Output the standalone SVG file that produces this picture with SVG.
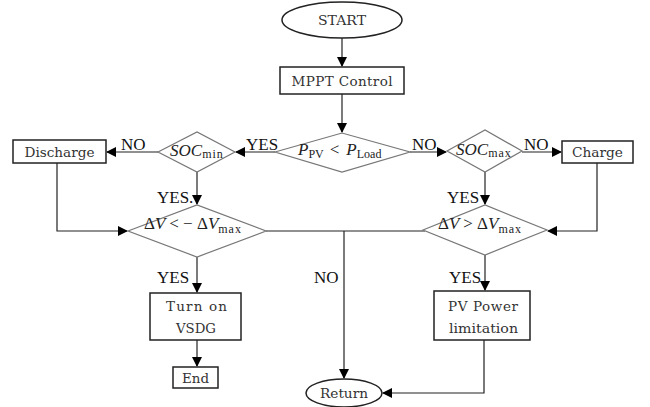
<svg xmlns="http://www.w3.org/2000/svg" width="650" height="407" viewBox="0 0 650 407">
<style>
.box{fill:#fff;stroke:#222;stroke-width:1.5}
.dia{fill:#fff;stroke:#777;stroke-width:1.2}
.t{font-family:"DejaVu Serif","Liberation Serif",serif;font-size:13.5px;fill:#333;text-anchor:middle}
.lbl{font-family:"Liberation Serif",serif;font-size:17px;fill:#111}
.m{font-family:"Liberation Serif",serif;font-size:17px;font-style:italic;fill:#222}
.sub{font-style:normal;font-size:12px}
.c{fill:none;stroke:#222;stroke-width:1.2}
</style>
<defs>
<marker id="ah" markerWidth="10" markerHeight="10" refX="9" refY="5" orient="auto" markerUnits="userSpaceOnUse">
<path d="M0,0 L10,5 L0,10 Z" fill="#000"/>
</marker>
</defs>
<g id="connectors">
<path class="c" d="M342,38 V66" marker-end="url(#ah)"/>
<path class="c" d="M342,94 V132" marker-end="url(#ah)"/>
<path class="c" d="M275,152 H236" marker-end="url(#ah)"/>
<path class="c" d="M158,152 H107" marker-end="url(#ah)"/>
<path class="c" d="M410,152 H446" marker-end="url(#ah)"/>
<path class="c" d="M522,152 H561" marker-end="url(#ah)"/>
<path class="c" d="M197,172 V204" marker-end="url(#ah)"/>
<path class="c" d="M485,172 V204" marker-end="url(#ah)"/>
<path class="c" d="M57,163 V231 H127" marker-end="url(#ah)"/>
<path class="c" d="M597,163 V231 H548" marker-end="url(#ah)"/>
<path class="c" d="M266,231 H425"/>
<path class="c" d="M344,231 V378" marker-end="url(#ah)"/>
<path class="c" d="M197,257 V292" marker-end="url(#ah)"/>
<path class="c" d="M485,255 V290" marker-end="url(#ah)"/>
<path class="c" d="M197,340 V366" marker-end="url(#ah)"/>
<path class="c" d="M484,340 V393 H383" marker-end="url(#ah)"/>
</g>
<g id="start"><ellipse class="box" cx="342" cy="20" rx="60" ry="18"/><text class="t" x="342" y="25" textLength="48" lengthAdjust="spacingAndGlyphs">START</text></g>
<g id="mppt"><rect class="box" x="280" y="67" width="124" height="27"/><text class="t" x="342" y="86" textLength="101" lengthAdjust="spacing">MPPT Control</text></g>
<g id="pcompare"><polygon class="dia" points="275,152 342,133 410,152 342,172"/><text class="m" x="298" y="155">P<tspan class="sub" dy="3" font-style="italic" font-size="11">PV</tspan><tspan dy="-3" font-style="normal" dx="6">&lt;</tspan><tspan dx="7">P</tspan><tspan class="sub" dy="3" font-style="italic" font-size="11">Load</tspan></text></g>
<g id="socmin"><polygon class="dia" points="158,152 197,132 235,152 197,172"/><text class="m" x="170" y="156">SOC<tspan class="sub" dy="2" letter-spacing="1">min</tspan></text></g>
<g id="discharge"><rect class="box" x="13" y="140" width="93" height="23"/><text class="t" x="59.5" y="157" textLength="70" lengthAdjust="spacingAndGlyphs">Discharge</text></g>
<g id="socmax"><polygon class="dia" points="447,151 485,130 522,151 485,172"/><text class="m" x="456" y="155">SOC<tspan class="sub" dy="2" letter-spacing="1">max</tspan></text></g>
<g id="charge"><rect class="box" x="562" y="141" width="71" height="22"/><text class="t" x="597.5" y="157" textLength="51" lengthAdjust="spacingAndGlyphs">Charge</text></g>
<g id="dvlow"><polygon class="dia" points="128,231 197,205 266,231 197,257"/><text class="m" x="144" y="229"><tspan font-style="normal">Δ</tspan>V <tspan font-style="normal">&lt; −</tspan> <tspan font-style="normal">Δ</tspan>V<tspan class="sub" dy="4" letter-spacing="1">max</tspan></text></g>
<g id="dvhigh"><polygon class="dia" points="423,230 485,205 547,230 485,255"/><text class="m" x="438" y="229"><tspan font-style="normal">Δ</tspan>V <tspan font-style="normal">&gt;</tspan> <tspan font-style="normal">Δ</tspan>V<tspan class="sub" dy="4" letter-spacing="1">max</tspan></text></g>
<g id="vsdg"><rect class="box" x="150" y="293" width="91" height="47"/><text class="t" x="196.5" y="311" textLength="61" lengthAdjust="spacing">Turn on</text><text class="t" x="196" y="333" textLength="40" lengthAdjust="spacingAndGlyphs">VSDG</text></g>
<g id="end"><rect class="box" x="173" y="367" width="45" height="21"/><text class="t" x="195.5" y="383" textLength="27" lengthAdjust="spacingAndGlyphs">End</text></g>
<g id="pvlimit"><rect class="box" x="434" y="291" width="96" height="49"/><text class="t" x="483" y="311" textLength="70" lengthAdjust="spacing">PV Power</text><text class="t" x="483.5" y="333" textLength="69" lengthAdjust="spacingAndGlyphs">limitation</text></g>
<g id="return"><ellipse class="box" cx="344" cy="393" rx="38" ry="14"/><text class="t" x="344" y="398" textLength="48" lengthAdjust="spacingAndGlyphs">Return</text></g>
<g id="labels">
<text class="lbl" x="246" y="150">YES</text>
<text class="lbl" x="121" y="150">NO</text>
<text class="lbl" x="412" y="150">NO</text>
<text class="lbl" x="524" y="150">NO</text>
<text class="lbl" x="157" y="203">YES.</text>
<text class="lbl" x="447" y="203">YES</text>
<text class="lbl" x="157" y="283">YES</text>
<text class="lbl" x="314" y="283">NO</text>
<text class="lbl" x="449" y="283">YES</text>
</g>
</svg>
